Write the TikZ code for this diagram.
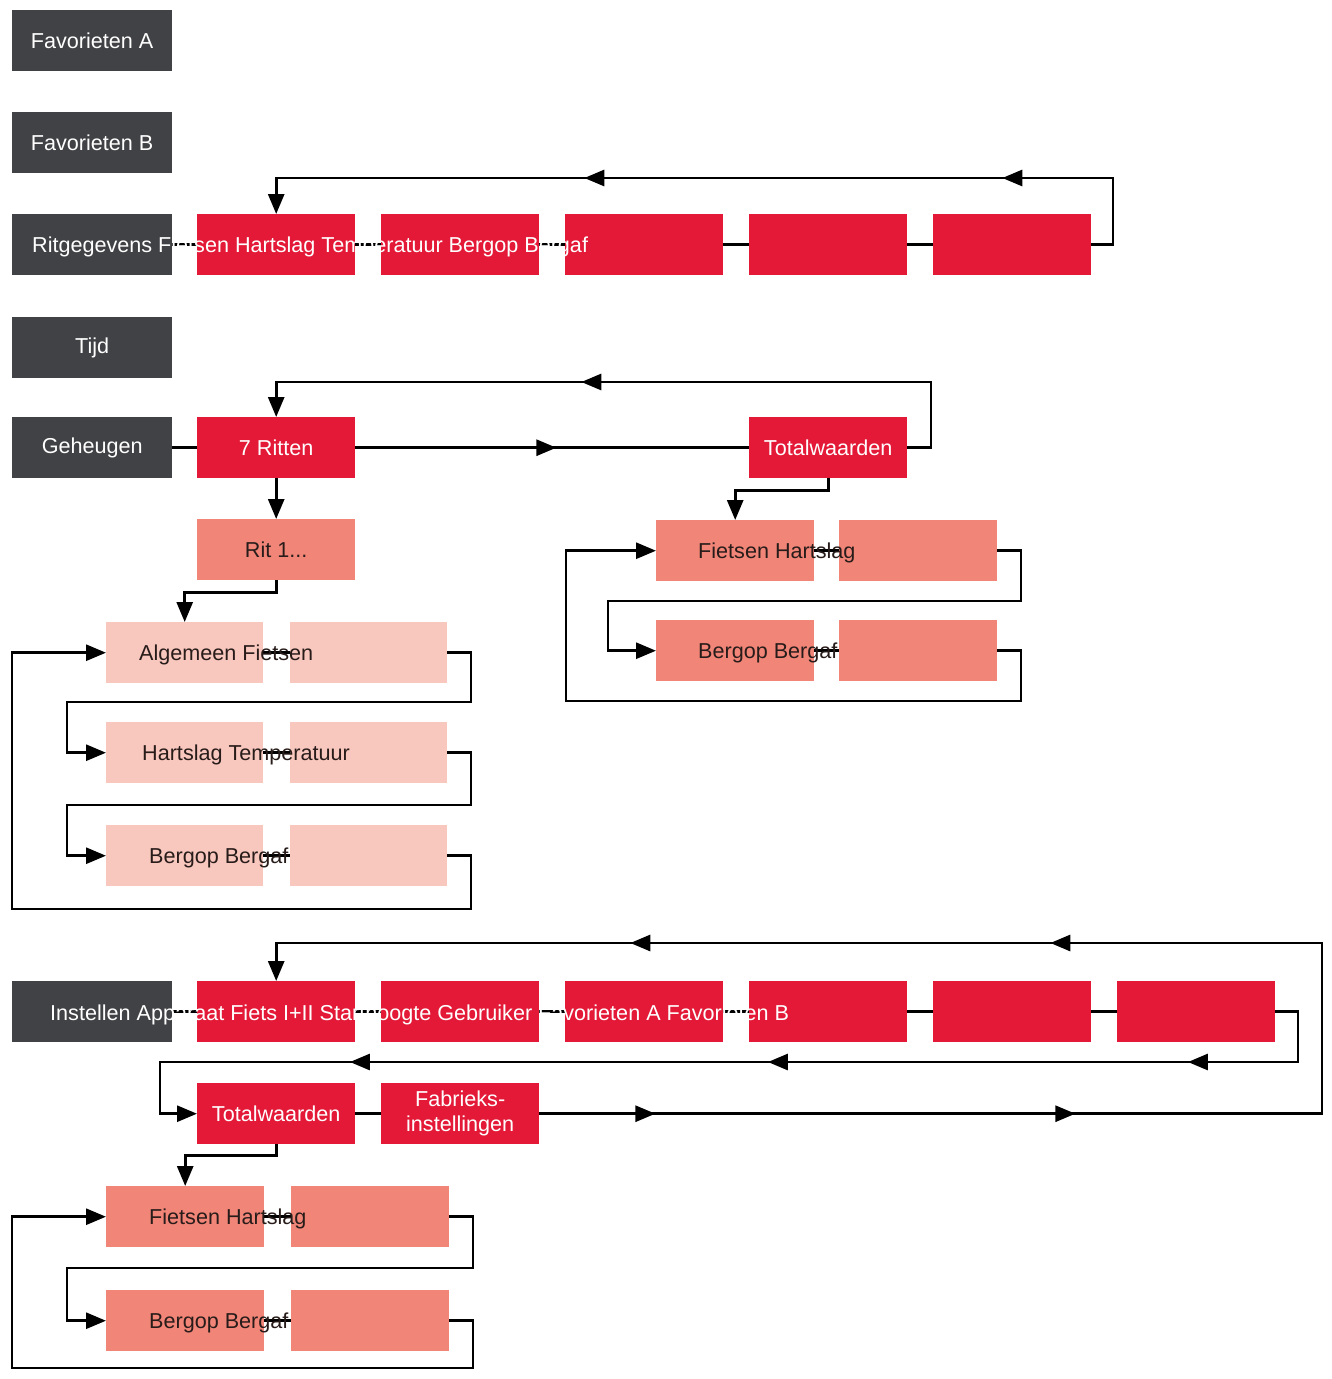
\documentclass[tikz,border=0pt]{standalone}
\usepackage{fontspec}
\setmainfont{Liberation Sans}
\usetikzlibrary{arrows.meta,decorations.markings}
\definecolor{dgray}{RGB}{65,66,69}
\definecolor{cred}{RGB}{227,25,55}
\definecolor{csalmon}{RGB}{240,133,120}
\definecolor{cpink}{RGB}{248,199,190}
\definecolor{dtext}{RGB}{40,28,26}
\newcommand{\fsz}{\fontsize{21.6}{25}\selectfont}
\tikzset{
  box/.style={rectangle, inner sep=0pt, minimum height=61pt, anchor=north west, text=white, font=\fsz, align=center},
  gbox/.style={box, fill=dgray, minimum width=160pt},
  rbox/.style={box, fill=cred, minimum width=158pt},
  sbox/.style={box, fill=csalmon, minimum width=158pt},
  pbox/.style={box, fill=cpink, minimum width=157pt},
  conn/.style={draw=black, line width=2.8pt},
  arr/.style={-{Triangle[length=20pt,width=16pt]}},
  marr/.style={postaction={decorate,decoration={markings,mark=at position #1 with {\arrow{Triangle[length=20pt,width=16pt]}}}}},
  lab/.style={anchor=base west, inner sep=0pt, font=\fsz},
  wlab/.style={lab, text=white},
  dlab/.style={lab, text=dtext}
}
\begin{document}
\begin{tikzpicture}[x=1pt,y=-1pt]
\fill[white] (0,0) rectangle (1331,1379);
\useasboundingbox (0,0) rectangle (1331,1379);
% left gray boxes
\node[gbox] (fa) at (12,10) {Favorieten A};
\node[gbox] (fb) at (12,112) {Favorieten B};
\node[gbox] (rit) at (12,214) {};
\node[gbox] (tijd) at (12,317) {Tijd};
\node[gbox] (geh) at (12,417) {Geheugen};
\node[gbox] (inst) at (12,981) {};
% Ritgegevens row
\node[rbox] (r1) at (197,214) {};
\node[rbox] (r2) at (381,214) {};
\node[rbox] (r3) at (565,214) {};
\node[rbox] (r4) at (749,214) {};
\node[rbox] (r5) at (933,214) {};
% Geheugen
\node[rbox] (g7) at (197,417) {7 Ritten};
\node[rbox] (gt) at (749,417) {Totalwaarden};
\node[sbox, text=dtext] (rit1) at (197,519) {Rit 1...};
% left group
\node[pbox] (l1a) at (106,622) {};
\node[pbox] (l1b) at (290,622) {};
\node[pbox] (l2a) at (106,722) {};
\node[pbox] (l2b) at (290,722) {};
\node[pbox] (l3a) at (106,825) {};
\node[pbox] (l3b) at (290,825) {};
% right group
\node[sbox] (ra1) at (656,520) {};
\node[sbox] (rb1) at (839,520) {};
\node[sbox] (ra2) at (656,620) {};
\node[sbox] (rb2) at (839,620) {};
% Instellen row
\node[rbox] (i1) at (197,981) {};
\node[rbox] (i2) at (381,981) {};
\node[rbox] (i3) at (565,981) {};
\node[rbox] (i4) at (749,981) {};
\node[rbox] (i5) at (933,981) {};
\node[rbox] (i6) at (1117,981) {};
\node[rbox] (tw2) at (197,1083) {Totalwaarden};
\node[rbox] (fab) at (381,1083) {Fabrieks-\\instellingen};
% bottom group
\node[sbox] (ba1) at (106,1186) {};
\node[sbox] (bb1) at (291,1186) {};
\node[sbox] (ba2) at (106,1290) {};
\node[sbox] (bb2) at (291,1290) {};

% connectors: Ritgegevens
\draw[conn] (rit) -- (r1);
\draw[conn] (r1) -- (r2);
\draw[conn] (r2) -- (r3);
\draw[conn] (r3) -- (r4);
\draw[conn] (r4) -- (r5);
\draw[conn, arr, marr=199pt, marr=617pt] (r5.east) -| (1113,178) -| (r1.north);
% Geheugen
\draw[conn] (geh) -- (g7);
\draw[conn, marr=201pt] (g7) -- (gt);
\draw[conn, arr, marr=439pt] (gt.east) -| (931,382) -| (g7.north);
\draw[conn, arr] (g7) -- (rit1);
\draw[conn, arr] (rit1.south) -- ++(0,12) -| (l1a.north);
% left group
\draw[conn] (l1a) -- (l1b);
\draw[conn] (l2a) -- (l2b);
\draw[conn] (l3a) -- (l3b);
\draw[conn, arr] (l1b.east) -| (471,702) -- (67,702) |- (l2a.west);
\draw[conn, arr] (l2b.east) -| (471,805) -- (67,805) |- (l3a.west);
\draw[conn, arr] (l3b.east) -| (471,909) -- (12,909) |- (l1a.west);
% right group
\draw[conn, arr] (gt.south) -- ++(0,12) -| (ra1.north);
\draw[conn] (ra1) -- (rb1);
\draw[conn] (ra2) -- (rb2);
\draw[conn, arr] (rb1.east) -| (1021,601) -- (608,601) |- (ra2.west);
\draw[conn, arr] (rb2.east) -| (1021,701) -- (566,701) |- (ra1.west);
% Instellen
\draw[conn] (inst) -- (i1);
\draw[conn] (i1) -- (i2);
\draw[conn] (i2) -- (i3);
\draw[conn] (i3) -- (i4);
\draw[conn] (i4) -- (i5);
\draw[conn] (i5) -- (i6);
\draw[conn, arr, marr=183pt, marr=603pt, marr=1021pt] (i6.east) -| (1298,1062) -- (160,1062) |- (tw2.west);
\draw[conn] (tw2) -- (fab);
\draw[conn, arr, marr=116pt, marr=536pt, marr=1225pt, marr=1645pt] (fab.east) -| (1322,943) -| (i1.north);
\draw[conn, arr] (tw2.south) -- ++(0,11) -| (ba1.north);
% bottom group
\draw[conn] (ba1) -- (bb1);
\draw[conn] (ba2) -- (bb2);
\draw[conn, arr] (bb1.east) -| (473,1268) -- (67,1268) |- (ba2.west);
\draw[conn, arr] (bb2.east) -| (473,1368) -- (12,1368) |- (ba1.west);

% overflowing labels
\node[wlab] (ritlab) at (32,252) {Ritgegevens Fietsen Hartslag Temperatuur Bergop Bergaf};
\node[wlab] (instlab) at (50,1020) {Instellen Apparaat Fiets I+II Starthoogte Gebruiker Favorieten A Favorieten B};
\node[dlab] (ra1lab) at (698,558) {Fietsen Hartslag};
\node[dlab] (ra2lab) at (698,658) {Bergop Bergaf};
\node[dlab] (l1lab) at (139,660) {Algemeen Fietsen};
\node[dlab] (l2lab) at (142,760) {Hartslag Temperatuur};
\node[dlab] (l3lab) at (149,863) {Bergop Bergaf};
\node[dlab] (ba1lab) at (149,1224) {Fietsen Hartslag};
\node[dlab] (ba2lab) at (149,1328) {Bergop Bergaf};
\end{tikzpicture}
\end{document}
